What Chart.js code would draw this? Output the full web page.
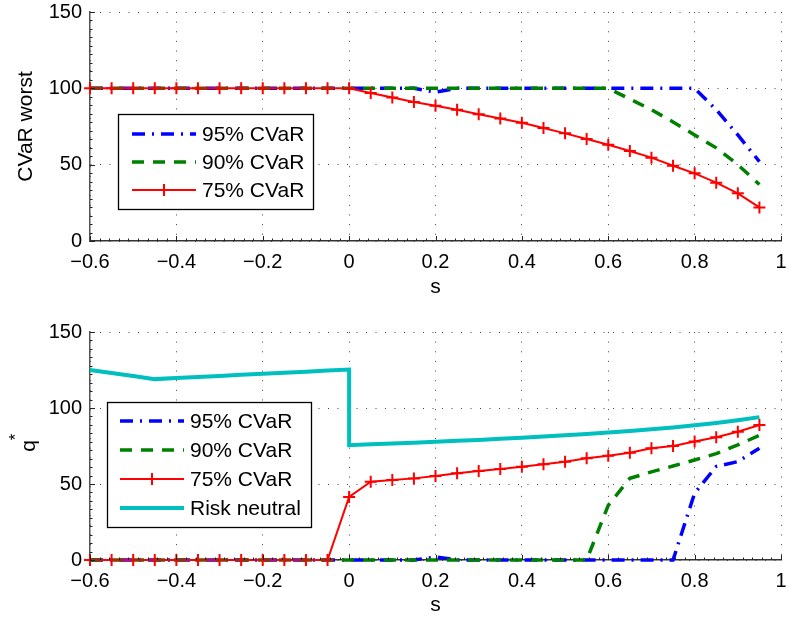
<!DOCTYPE html>
<html>
<head>
<meta charset="utf-8">
<script src="https://cdn.jsdelivr.net/npm/chart.js@4.4.1/dist/chart.umd.min.js"></script>
<style>
  html, body { margin: 0; padding: 0; background: #fff; overflow: hidden; }
  #wrap { position: relative; width: 789px; height: 617px; }
  canvas { position: absolute; left: 0; }
  #topChart { top: 0; }
  #botChart { top: 318px; }
</style>
</head>
<body>
<div id="wrap">
  <canvas id="topChart" width="789" height="308"></canvas>
  <canvas id="botChart" width="789" height="299"></canvas>
</div>
<script>
// s grid
const sVals = [-0.6, -0.55, -0.5, -0.45, -0.4, -0.35, -0.3, -0.25, -0.2, -0.15, -0.1, -0.05, 0,
  0.05, 0.1, 0.15, 0.2, 0.25, 0.3, 0.35, 0.4, 0.45, 0.5, 0.55, 0.6, 0.65, 0.7, 0.75, 0.8, 0.85, 0.9, 0.95];
// risk neutral has a jump at s = 0, so 0 appears twice
const neutralS = [-0.6, -0.55, -0.5, -0.45, -0.4, -0.35, -0.3, -0.25, -0.2, -0.15, -0.1, -0.05, 0, 0,
  0.05, 0.1, 0.15, 0.2, 0.25, 0.3, 0.35, 0.4, 0.45, 0.5, 0.55, 0.6, 0.65, 0.7, 0.75, 0.8, 0.85, 0.9, 0.95];

// top: CVaR worst
const cvar95Top = [100, 100, 100, 100, 100, 100, 100, 100, 100, 100, 100, 100, 100, 100, 100, 100,
  97.5, 100, 100, 100, 100, 100, 100, 100, 100, 100, 100, 100, 100, 86, 69.5, 52];
const cvar90Top = [100, 100, 100, 100, 100, 100, 100, 100, 100, 100, 100, 100, 100, 100, 100, 100,
  100, 100, 100, 100, 100, 100, 100, 100, 100, 93, 86, 78, 69.5, 61, 50, 37];
const cvar75Top = [100, 100, 100, 100, 100, 100, 100, 100, 100, 100, 100, 100, 100,
  97, 94, 91, 88.6, 86, 83, 80.3, 77.5, 74, 70.5, 66.8, 63, 59, 54.6, 49.3, 44.3, 38.2, 31.2, 22];

// bottom: q*
const cvar95Bot = [0, 0, 0, 0, 0, 0, 0, 0, 0, 0, 0, 0, 0, 0, 0, 0,
  2, 0, 0, 0, 0, 0, 0, 0, 0, 0, 0, 0, 44, 61.5, 64.7, 73.5];
const cvar90Bot = [0, 0, 0, 0, 0, 0, 0, 0, 0, 0, 0, 0, 0, 0, 0, 0, 0, 0, 0, 0, 0, 0, 0, 0,
  36, 53.7, 58, 61.8, 65.8, 70, 75.7, 82];
const cvar75Bot = [0, 0, 0, 0, 0, 0, 0, 0, 0, 0, 0, 0,
  41.5, 51.5, 52.6, 53.7, 55.3, 57, 58.5, 59.9, 61.4, 63, 64.7, 66.9, 68.6, 70.6, 73.5, 75, 77.9, 80.7, 84.4, 88.8];
const neutralBot = [125, 123, 121, 119, 119.7, 120.4, 121.1, 121.8, 122.5, 123.2, 123.9, 124.6, 125.3,
  75.5, 76.1, 76.7, 77.2, 77.8, 78.4, 79, 79.7, 80.4, 81.2, 82, 82.9, 83.9, 84.9, 86, 87.2, 88.6, 90.1, 91.9, 94];

const xTickVals = [-0.6, -0.4, -0.2, 0, 0.2, 0.4, 0.6, 0.8, 1];
const xTickLabels = ['\u22120.6', '\u22120.4', '\u22120.2', '0', '0.2', '0.4', '0.6', '0.8', '1'];
const yTickVals = [0, 50, 100, 150];
const yTickLabels = ['0', '50', '100', '150'];

const FONT = "'Liberation Sans', Arial, Helvetica, sans-serif";
const pts = (xs, ys) => xs.map((x, i) => ({ x, y: ys[i] }));

const style95 = { borderColor: '#0000ff', borderWidth: 3.5, borderDash: [13, 7, 2, 7], pointRadius: 0 };
const style90 = { borderColor: '#008000', borderWidth: 3.5, borderDash: [12, 9], pointRadius: 0 };
const style75 = { borderColor: '#ff0000', borderWidth: 2, pointStyle: 'cross', pointRadius: 6,
  pointBorderWidth: 2, pointBorderColor: '#ff0000' };
const styleRN = { borderColor: '#00bfbf', borderWidth: 4, pointRadius: 0 };

// draws inward ticks, legend box and axis titles the way matlab does
const matlabFrame = {
  id: 'matlabFrame',
  afterDraw(chart, args, o) {
    const ctx = chart.ctx, a = chart.chartArea;
    const xs = chart.scales.x, ys = chart.scales.y;
    ctx.save();
    ctx.strokeStyle = '#222';
    ctx.lineWidth = 1;
    ctx.setLineDash([]);
    ctx.beginPath();
    xTickVals.forEach((v, i) => {
      const px = Math.round(xs.getPixelForValue(v)) + 0.5;
      ctx.moveTo(px, a.bottom); ctx.lineTo(px, a.bottom - 5);
      if (i < xTickVals.length - 1) {
        const step = (xTickVals[i + 1] - v) / 9;
        for (let k = 1; k < 9; k++) {
          const mx = Math.round(xs.getPixelForValue(v + k * step)) + 0.5;
          ctx.moveTo(mx, a.bottom); ctx.lineTo(mx, a.bottom - 2.5);
        }
      }
    });
    yTickVals.forEach((v, i) => {
      const py = Math.round(ys.getPixelForValue(v)) + 0.5;
      ctx.moveTo(a.left, py); ctx.lineTo(a.left + 5, py);
      if (i < yTickVals.length - 1) {
        const step = (yTickVals[i + 1] - v) / 9;
        for (let k = 1; k < 9; k++) {
          const my = Math.round(ys.getPixelForValue(v + k * step)) + 0.5;
          ctx.moveTo(a.left, my); ctx.lineTo(a.left + 2.5, my);
        }
      }
    });
    ctx.stroke();

    // legend
    const L = o.legend;
    ctx.fillStyle = '#fff';
    ctx.fillRect(L.x, L.y, L.w, L.h);
    ctx.strokeStyle = '#000';
    ctx.lineWidth = 1.3;
    ctx.strokeRect(L.x + 0.5, L.y + 0.5, L.w, L.h);
    ctx.font = '21px ' + FONT;
    ctx.textBaseline = 'middle';
    ctx.textAlign = 'left';
    chart.data.datasets.forEach((d, i) => {
      const ry = L.rowY[i];
      ctx.strokeStyle = d.borderColor;
      ctx.lineWidth = d.borderWidth;
      ctx.setLineDash(d.borderDash || []);
      ctx.beginPath();
      ctx.moveTo(L.lineX1, ry); ctx.lineTo(L.lineX2, ry);
      ctx.stroke();
      ctx.setLineDash([]);
      if (d.pointStyle === 'cross') {
        const cx = (L.lineX1 + L.lineX2) / 2, r = d.pointRadius;
        ctx.lineWidth = d.pointBorderWidth;
        ctx.beginPath();
        ctx.moveTo(cx - r, ry); ctx.lineTo(cx + r, ry);
        ctx.moveTo(cx, ry - r); ctx.lineTo(cx, ry + r);
        ctx.stroke();
      }
      ctx.fillStyle = '#000';
      ctx.fillText(d.label, L.textX, ry + 1);
    });

    // axis titles
    ctx.fillStyle = '#000';
    ctx.textAlign = 'center';
    ctx.fillText('s', (a.left + a.right) / 2, o.xTitleY);
    ctx.translate(o.yTitleX, (a.top + a.bottom) / 2);
    ctx.rotate(-Math.PI / 2);
    ctx.fillText(o.yTitle, 0, 0);
    if (o.yTitleSup) {
      ctx.font = '17px ' + FONT;
      ctx.fillText(o.yTitleSup, 9, -13);
    }
    ctx.restore();
  }
};

function makeScales(xAxisH) {
  return {
    x: {
      type: 'linear', min: -0.6, max: 1,
      afterBuildTicks: s => { s.ticks = xTickVals.map(v => ({ value: v })); },
      afterFit: s => { s.height = xAxisH; s.paddingLeft = 0; s.paddingRight = 0; },
      ticks: { callback: (v, i) => xTickLabels[i], color: '#000', font: { family: FONT, size: 20 },
        padding: 9, maxRotation: 0, autoSkip: false },
      grid: { color: '#444', lineWidth: 1, drawTicks: false },
      border: { display: true, color: '#333', width: 1.5, dash: [1, 8.64] }
    },
    y: {
      type: 'linear', min: 0, max: 150,
      afterBuildTicks: s => { s.ticks = yTickVals.map(v => ({ value: v })); },
      afterFit: s => { s.width = 90; s.paddingTop = 0; s.paddingBottom = 0; },
      ticks: { callback: (v, i) => yTickLabels[i], color: '#000', font: { family: FONT, size: 20 }, padding: 8 },
      grid: { color: '#444', lineWidth: 1, drawTicks: false },
      border: { display: true, color: '#555', width: 1.5, dash: [1, 8.5] }
    }
  };
}

const common = {
  responsive: false, animation: false, devicePixelRatio: 1,
  plugins: { legend: { display: false }, tooltip: { enabled: false } }
};

new Chart(document.getElementById('topChart'), {
  type: 'line',
  data: {
    datasets: [
      { label: '95% CVaR', data: pts(sVals, cvar95Top), order: 4, clip: false, ...style95 },
      { label: '90% CVaR', data: pts(sVals, cvar90Top), order: 3, clip: false, ...style90 },
      { label: '75% CVaR', data: pts(sVals, cvar75Top), order: 2, clip: false, ...style75 }
    ]
  },
  options: {
    ...common,
    layout: { padding: { top: 12, right: 5, left: 0, bottom: 0 } },
    scales: makeScales(67),
    plugins: {
      ...common.plugins,
      matlabFrame: {
        legend: { x: 118, y: 114, w: 195, h: 95, lineX1: 132, lineX2: 196, textX: 202, rowY: [134, 162, 190] },
        xTitleY: 287, yTitleX: 26, yTitle: 'CVaR worst'
      }
    }
  },
  plugins: [matlabFrame]
});

new Chart(document.getElementById('botChart'), {
  type: 'line',
  data: {
    datasets: [
      { label: '95% CVaR', data: pts(sVals, cvar95Bot), order: 4, clip: false, ...style95 },
      { label: '90% CVaR', data: pts(sVals, cvar90Bot), order: 3, clip: false, ...style90 },
      { label: '75% CVaR', data: pts(sVals, cvar75Bot), order: 2, clip: false, ...style75 },
      { label: 'Risk neutral', data: pts(neutralS, neutralBot), order: 1, clip: false, ...styleRN }
    ]
  },
  options: {
    ...common,
    layout: { padding: { top: 14, right: 5, left: 0, bottom: 0 } },
    scales: makeScales(57),
    plugins: {
      ...common.plugins,
      matlabFrame: {
        legend: { x: 107, y: 84, w: 204, h: 125, lineX1: 120, lineX2: 184, textX: 190, rowY: [103, 132, 161, 190] },
        xTitleY: 287, yTitleX: 29, yTitle: 'q', yTitleSup: '*'
      }
    }
  },
  plugins: [matlabFrame]
});
</script>
</body>
</html>
